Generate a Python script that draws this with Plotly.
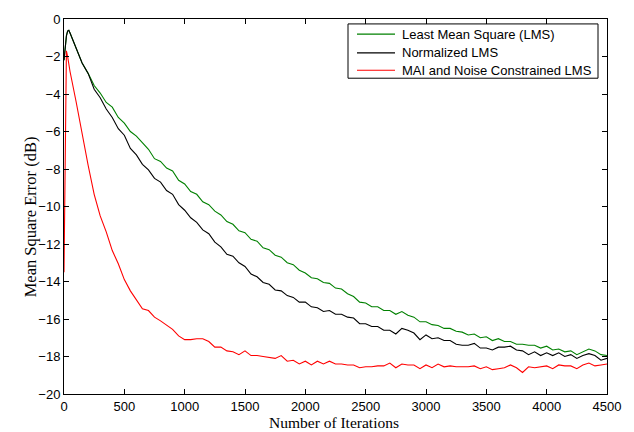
import plotly.graph_objects as go

ITER_EARLY = [0, 10, 20, 30, 40]
ITER = ITER_EARLY + list(range(50, 4501, 50))

LMS = [-2.2, -1.3, -0.9, -0.65, -0.6,
       -0.75, -1.5, -2.35, -2.9, -3.55, -3.95, -4.45, -4.7, -5.25, -5.55,
       -6.0, -6.25, -6.6, -6.95, -7.45, -7.6, -7.95, -8.1, -8.6, -8.8,
       -9.2, -9.35, -9.75, -9.9, -10.25, -10.45, -10.8, -10.95, -11.3, -11.4,
       -11.75, -11.85, -12.2, -12.3, -12.6, -12.7, -13.0, -13.1, -13.4, -13.55,
       -13.8, -13.85, -14.05, -14.1, -14.35, -14.4, -14.65, -14.8, -15.1, -15.15,
       -15.35, -15.35, -15.55, -15.55, -15.75, -15.6, -15.8, -15.9, -16.15, -16.15,
       -16.3, -16.35, -16.5, -16.5, -16.65, -16.7, -16.85, -16.8, -17.0, -16.95,
       -17.15, -17.05, -17.2, -17.2, -17.35, -17.35, -17.4, -17.4, -17.55, -17.45,
       -17.65, -17.6, -17.75, -17.7, -17.9, -17.75, -17.6, -17.7, -17.9, -17.95]

NLMS = [-2.2, -1.3, -0.9, -0.65, -0.6,
        -0.75, -1.5, -2.35, -2.9, -3.75, -4.2, -4.8, -5.25, -5.85, -6.2,
        -6.9, -7.25, -7.75, -8.05, -8.5, -8.7, -9.15, -9.35, -9.9, -10.2,
        -10.6, -10.85, -11.25, -11.45, -11.9, -12.15, -12.55, -12.65, -13.0, -13.2,
        -13.6, -13.75, -14.05, -14.15, -14.45, -14.5, -14.75, -14.85, -15.1, -15.1,
        -15.35, -15.4, -15.6, -15.55, -15.75, -15.75, -15.9, -15.95, -16.25, -16.25,
        -16.4, -16.4, -16.6, -16.6, -16.8, -16.5, -16.6, -16.75, -17.1, -16.85,
        -17.05, -17.0, -17.15, -17.15, -17.35, -17.4, -17.4, -17.3, -17.55, -17.55,
        -17.65, -17.5, -17.5, -17.45, -17.65, -17.7, -17.9, -17.75, -17.95, -17.8,
        -17.95, -17.8, -18.0, -17.9, -18.1, -17.95, -17.85, -17.95, -18.2, -18.1]

MAI = [-13.5, -6.0, -1.7, -2.0, -2.4,
       -2.8, -4.4, -6.2, -7.8, -9.35, -10.5, -11.35, -12.35, -13.05, -13.9,
       -14.5, -14.95, -15.45, -15.55, -15.9, -16.1, -16.35, -16.55, -16.9, -17.1,
       -17.1, -17.05, -17.05, -17.2, -17.5, -17.5, -17.7, -17.75, -17.9, -17.7,
       -17.95, -17.95, -18.0, -18.05, -18.1, -17.95, -18.25, -18.2, -18.4, -18.25,
       -18.45, -18.25, -18.4, -18.25, -18.4, -18.4, -18.45, -18.45, -18.6, -18.55,
       -18.55, -18.5, -18.5, -18.35, -18.6, -18.4, -18.45, -18.45, -18.65, -18.45,
       -18.6, -18.4, -18.55, -18.5, -18.55, -18.55, -18.55, -18.5, -18.65, -18.55,
       -18.7, -18.65, -18.6, -18.45, -18.6, -18.85, -18.55, -18.6, -18.55, -18.5,
       -18.65, -18.45, -18.5, -18.5, -18.65, -18.45, -18.35, -18.5, -18.45, -18.4]

NAMES = ["Least Mean Square (LMS)", "Normalized LMS", "MAI and Noise Constrained LMS"]
COLORS = ["#008000", "#000000", "#ff0000"]

X_TICKS = [0, 500, 1000, 1500, 2000, 2500, 3000, 3500, 4000, 4500]
Y_TICKS = [0, -2, -4, -6, -8, -10, -12, -14, -16, -18, -20]

X_TITLE = "Number of Iterations"
Y_TITLE = "Mean Square Error (dB)"

fig = go.Figure()
for name, ys, col in zip(NAMES, [LMS, NLMS, MAI], COLORS):
    fig.add_trace(go.Scatter(x=ITER, y=ys, mode="lines", name=name,
                             line=dict(color=col, width=1.1), showlegend=False))

axis_common = dict(showgrid=False, zeroline=False, showline=True, linecolor="black",
                   linewidth=1, mirror="ticks", ticks="inside", ticklen=5,
                   tickcolor="black",
                   tickfont=dict(family="Liberation Sans, Arial", size=13, color="black"))

serif = dict(family="Liberation Serif, Times New Roman", size=15.5, color="black")
sans = dict(family="Liberation Sans, Arial", size=13, color="black")

# plot area in pixels: left 64, right 607, top 14, bottom 394
PLOT_T, PLOT_B = 14, 394
H = PLOT_B - PLOT_T


def py(px):
    return (PLOT_B - px) / H


def pxx(px):
    return (px - 64) / 543


LEG_BOX = dict(x0=pxx(348), x1=pxx(598), y0=py(74), y1=py(19))
LEG_ROWS = [py(29.3), py(48.3), py(66)]
LEG_LINE_X = (pxx(357), pxx(395))
LEG_TEXT_X = pxx(400)

shapes = [dict(type="rect", xref="paper", yref="paper", line=dict(color="black", width=1),
               fillcolor="white", layer="above", **LEG_BOX)]
annotations = [
    dict(text=X_TITLE, xref="paper", yref="paper", x=pxx(334), y=py(423),
         xanchor="center", yanchor="middle", showarrow=False, font=serif),
    dict(text=Y_TITLE, xref="paper", yref="paper", x=pxx(30), y=py(214),
         xanchor="center", yanchor="middle", showarrow=False, textangle=-90,
         font=dict(serif, size=16.5)),
]
for name, col, ry in zip(NAMES, COLORS, LEG_ROWS):
    shapes.append(dict(type="line", xref="paper", yref="paper", x0=LEG_LINE_X[0],
                       x1=LEG_LINE_X[1], y0=ry, y1=ry, line=dict(color=col, width=1.1),
                       layer="above"))
    annotations.append(dict(text=name, xref="paper", yref="paper", x=LEG_TEXT_X, y=ry,
                            xanchor="left", yanchor="middle", showarrow=False, font=sans))

fig.update_layout(
    width=634, height=432,
    margin=dict(l=64, r=27, t=PLOT_T, b=432 - PLOT_B),
    plot_bgcolor="white", paper_bgcolor="white",
    xaxis=dict(range=[0, 4500], tickvals=X_TICKS, **axis_common),
    yaxis=dict(range=[-20, 0], tickvals=Y_TICKS, **axis_common),
    showlegend=False,
    shapes=shapes,
    annotations=annotations,
)

fig.write_html("out.html", config={"displayModeBar": False},
               post_script="document.body.style.margin='0';document.body.style.overflow='hidden';")
